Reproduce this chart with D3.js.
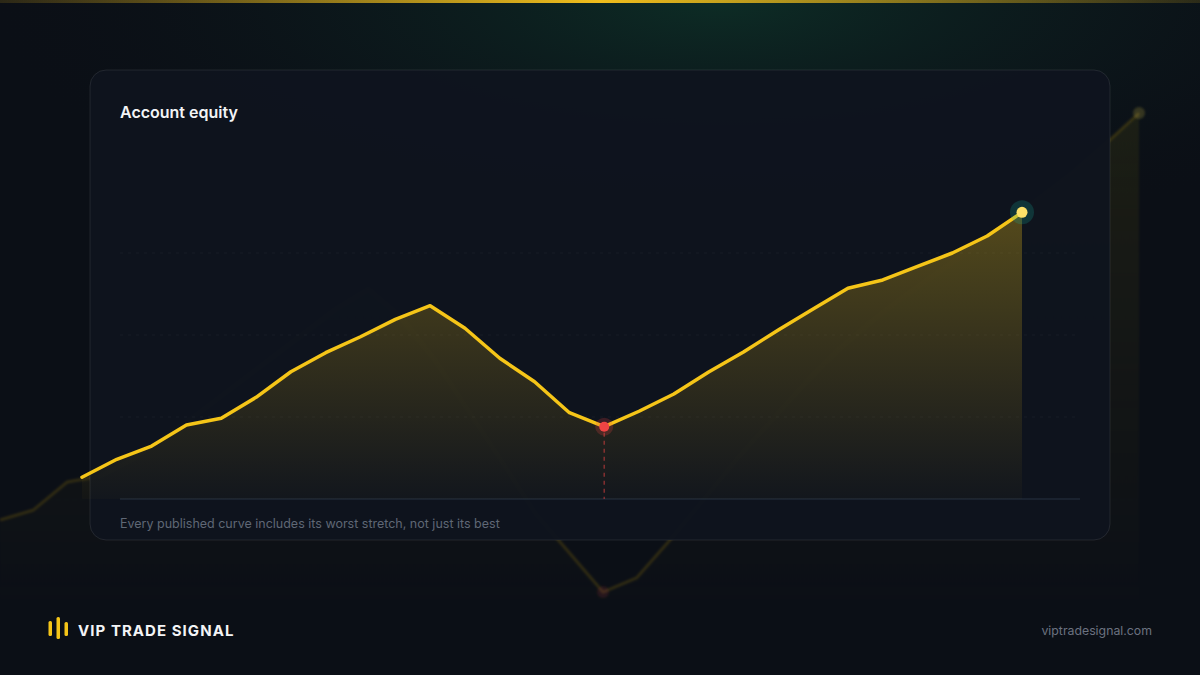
<!DOCTYPE html>
<html>
<head>
<meta charset="utf-8">
<script src="https://cdn.jsdelivr.net/npm/d3@7"></script>
<style>
  html, body { margin: 0; padding: 0; background: #0b0f16; }
  svg { display: block; font-family: Inter, "Noto Sans", sans-serif; }
</style>
</head>
<body>
<div id="chart"></div>
<script>
// --- data (equity, arbitrary dollars) ---
const equity = [
  10265, 10484, 10646, 10902, 10984, 11240, 11552, 11784, 11979, 12191,
  12357, 12082, 11716, 11430, 11052, 10882, 11070, 11280, 11549, 11793,
  12061, 12317, 12570, 12671, 12838, 13000, 13207, 13496
];
// longer, blurred-out history drawn behind the card
const bgEquity = [
  11059, 11118, 11282, 11318, 11420, 11560, 11700, 11850, 12000, 12150,
  12300, 12420, 12250, 12000, 11700, 11400, 11094, 10865, 10635, 10718,
  10941, 11180, 11420, 11640, 11860, 12060, 12230, 12380, 12520, 12660,
  12800, 12950, 13100, 13271, 13453
];
const gridTicks = [11000, 12000, 13000];
const yDomain = [10000, 14000];

const title = "Account equity";
const note = "Every published curve includes its worst stretch, not just its best";
const brand = "VIP TRADE SIGNAL";
const site = "viptradesignal.com";

// --- sizing ---
const W = 1200, H = 675;
const card = { x: 90, y: 70, w: 1020, h: 470, r: 16 };
const plot = { left: 82, right: 1022, top: 171, bottom: 499 };

const svg = d3.select("#chart").append("svg")
  .attr("width", W).attr("height", H);

const defs = svg.append("defs");

// page glow
const glow = defs.append("radialGradient").attr("id", "glow")
  .attr("cx", 0.6).attr("cy", 0).attr("r", 0.62);
glow.append("stop").attr("offset", "0%").attr("stop-color", "#0f4a35").attr("stop-opacity", 0.5);
glow.append("stop").attr("offset", "55%").attr("stop-color", "#0d2a26").attr("stop-opacity", 0.25);
glow.append("stop").attr("offset", "100%").attr("stop-color", "#0b0f16").attr("stop-opacity", 0);

const topLine = defs.append("linearGradient").attr("id", "topLine");
topLine.append("stop").attr("offset", "0%").attr("stop-color", "#e2b21a").attr("stop-opacity", 0.15);
topLine.append("stop").attr("offset", "50%").attr("stop-color", "#f0bd1c").attr("stop-opacity", 1);
topLine.append("stop").attr("offset", "100%").attr("stop-color", "#e2b21a").attr("stop-opacity", 0.15);

const fillGrad = defs.append("linearGradient").attr("id", "fillGrad")
  .attr("gradientUnits", "userSpaceOnUse")
  .attr("x1", 0).attr("x2", 0).attr("y1", 212).attr("y2", plot.bottom);
fillGrad.append("stop").attr("offset", "0%").attr("stop-color", "#f5c518").attr("stop-opacity", 0.3);
fillGrad.append("stop").attr("offset", "100%").attr("stop-color", "#f5c518").attr("stop-opacity", 0.02);

const bgFill = defs.append("linearGradient").attr("id", "bgFill")
  .attr("gradientUnits", "userSpaceOnUse")
  .attr("x1", 0).attr("x2", 0).attr("y1", 110).attr("y2", 620);
bgFill.append("stop").attr("offset", "0%").attr("stop-color", "#c9b020").attr("stop-opacity", 0.09);
bgFill.append("stop").attr("offset", "100%").attr("stop-color", "#c9b020").attr("stop-opacity", 0);

defs.append("filter").attr("id", "soft")
  .append("feGaussianBlur").attr("stdDeviation", 0.8);

// --- background ---
svg.append("rect").attr("width", W).attr("height", H).attr("fill", "#0b0f16");
svg.append("rect").attr("width", W).attr("height", H * 0.6).attr("fill", "url(#glow)");
svg.append("rect").attr("x", 0).attr("y", 0).attr("width", W).attr("height", 3)
  .attr("fill", "url(#topLine)");

// --- faded background curve ---
const bx = d3.scaleLinear().domain([0, bgEquity.length - 1]).range([0, 1139]);
const by = d3.scaleLinear().domain(yDomain).range([700, 20]);
const bgTroughIdx = d3.minIndex(bgEquity);
const bgLast = bgEquity.length - 1;

const bgG = svg.append("g").attr("filter", "url(#soft)");
bgG.append("path")
  .datum(bgEquity)
  .attr("fill", "url(#bgFill)")
  .attr("d", d3.area().x((d, i) => bx(i)).y0(620).y1(d => by(d)));
bgG.append("path")
  .datum(bgEquity)
  .attr("fill", "none")
  .attr("stroke", "#f5c518")
  .attr("stroke-opacity", 0.15)
  .attr("stroke-width", 3)
  .attr("stroke-linejoin", "round")
  .attr("d", d3.line().x((d, i) => bx(i)).y(d => by(d)));
bgG.append("circle")
  .attr("cx", bx(bgTroughIdx)).attr("cy", by(bgEquity[bgTroughIdx])).attr("r", 6)
  .attr("fill", "#ef4444").attr("fill-opacity", 0.12);
bgG.append("circle")
  .attr("cx", bx(bgLast)).attr("cy", by(bgEquity[bgLast])).attr("r", 6)
  .attr("fill", "#f5d94a").attr("fill-opacity", 0.18);

// --- card ---
svg.append("rect")
  .attr("x", card.x).attr("y", card.y)
  .attr("width", card.w).attr("height", card.h)
  .attr("rx", card.r)
  .attr("fill", "#0f141e").attr("fill-opacity", 0.96)
  .attr("stroke", "#ffffff").attr("stroke-opacity", 0.09);

svg.append("text")
  .attr("x", 120).attr("y", 118)
  .attr("fill", "#f3f4f6")
  .style("font-size", "16px").style("font-weight", 600)
  .text(title);

// --- scales ---
const x = d3.scaleLinear().domain([0, equity.length - 1]).range([plot.left, plot.right]);
const y = d3.scaleLinear().domain(yDomain).range([plot.bottom, plot.top]);

// gridlines
svg.append("g")
  .selectAll("line")
  .data(gridTicks)
  .join("line")
  .attr("x1", 120).attr("x2", 1080)
  .attr("y1", d => y(d)).attr("y2", d => y(d))
  .attr("stroke", "#ffffff").attr("stroke-opacity", 0.04)
  .attr("stroke-dasharray", "3 5");

// baseline
svg.append("line")
  .attr("x1", 120).attr("x2", 1080)
  .attr("y1", plot.bottom).attr("y2", plot.bottom)
  .attr("stroke", "#1f2836").attr("stroke-width", 1.5);

// area + line
svg.append("path")
  .datum(equity)
  .attr("fill", "url(#fillGrad)")
  .attr("d", d3.area().x((d, i) => x(i)).y0(plot.bottom).y1(d => y(d)));

const troughIdx = d3.minIndex(equity.slice(10)) + 10; // worst point after the peak
const last = equity.length - 1;

// drawdown marker
svg.append("line")
  .attr("x1", x(troughIdx)).attr("x2", x(troughIdx))
  .attr("y1", y(equity[troughIdx]) + 6).attr("y2", plot.bottom)
  .attr("stroke", "#ef4444").attr("stroke-opacity", 0.5)
  .attr("stroke-width", 1.5)
  .attr("stroke-dasharray", "4 4");

svg.append("path")
  .datum(equity)
  .attr("fill", "none")
  .attr("stroke", "#f5c518")
  .attr("stroke-width", 3.5)
  .attr("stroke-linejoin", "round")
  .attr("stroke-linecap", "round")
  .attr("d", d3.line().x((d, i) => x(i)).y(d => y(d)));

svg.append("circle")
  .attr("cx", x(troughIdx)).attr("cy", y(equity[troughIdx])).attr("r", 9)
  .attr("fill", "#ef4444").attr("fill-opacity", 0.22);
svg.append("circle")
  .attr("cx", x(troughIdx)).attr("cy", y(equity[troughIdx])).attr("r", 5)
  .attr("fill", "#ef4444");

svg.append("circle")
  .attr("cx", x(last)).attr("cy", y(equity[last])).attr("r", 12)
  .attr("fill", "#14b8a6").attr("fill-opacity", 0.2);
svg.append("circle")
  .attr("cx", x(last)).attr("cy", y(equity[last])).attr("r", 5.5)
  .attr("fill", "#fde068");

// footnote
svg.append("text")
  .attr("x", 120).attr("y", 527.5)
  .attr("fill", "#5f6775")
  .style("font-size", "12.5px")
  .text(note);

// --- footer ---
const logoBars = [
  { x: 48.5, y: 621, h: 15 },
  { x: 56.5, y: 617, h: 22 },
  { x: 64.5, y: 622, h: 14 }
];
svg.append("g")
  .selectAll("rect")
  .data(logoBars)
  .join("rect")
  .attr("x", d => d.x).attr("y", d => d.y)
  .attr("width", 3.5).attr("height", d => d.h)
  .attr("rx", 1.5)
  .attr("fill", "#f5c518");

svg.append("text")
  .attr("x", 78).attr("y", 635.5)
  .attr("fill", "#f3f4f6")
  .style("font-size", "15px").style("font-weight", 700)
  .style("letter-spacing", "1.05px")
  .text(brand);

svg.append("text")
  .attr("x", 1152).attr("y", 635)
  .attr("text-anchor", "end")
  .attr("fill", "#6b7280")
  .style("font-size", "12.3px")
  .text(site);
</script>
</body>
</html>
